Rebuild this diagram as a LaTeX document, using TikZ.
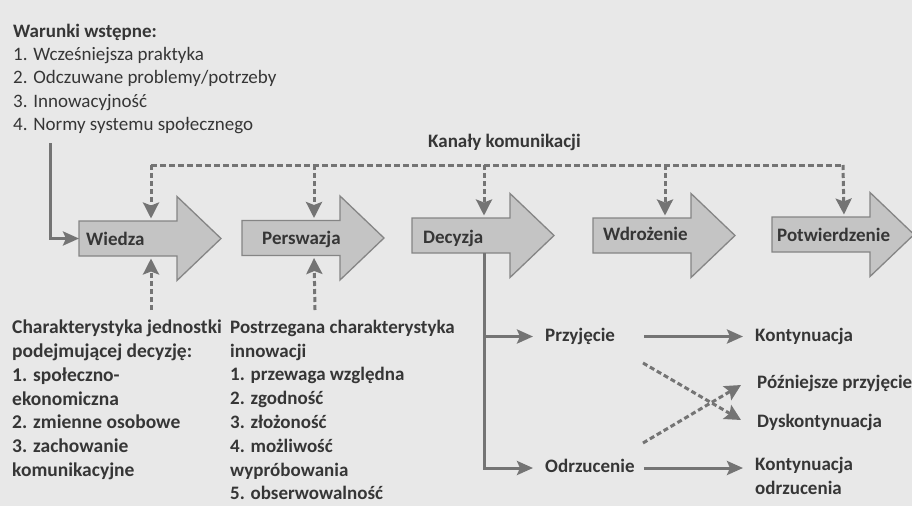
\documentclass[tikz,border=0pt]{standalone}
\usepackage{fontspec}
\setmainfont{Carlito}
\usetikzlibrary{arrows.meta}
\definecolor{bgc}{HTML}{E8E8E8}
\definecolor{linec}{HTML}{747474}
\definecolor{txtc}{HTML}{363636}
\definecolor{stagefill}{HTML}{C4C4C4}
\definecolor{stageedge}{HTML}{858585}
\begin{document}
\begin{tikzpicture}[x=1pt,y=-1pt,
  stagebox/.style={fill=stagefill, draw=stageedge, line width=1.3pt, line join=miter},
  stagearrow/.pic={
    \draw[stagebox] (0,-17.5) -- (98,-17.5) -- (98,-42) -- (142,0) -- (98,42)
      -- (98,17.5) -- (0,17.5) -- cycle;
    \coordinate (-w) at (0,0);
    \coordinate (-n) at (72,-17.5);
    \coordinate (-s) at (72,17.5);
  },
  stagelabel/.style={font=\fontsize{19}{23}\selectfont\bfseries, text=txtc, inner sep=0pt, anchor=base west},
  lbl/.style={font=\fontsize{19}{23}\selectfont\bfseries, text=txtc, inner sep=0pt, anchor=west, text height=13pt, text depth=4pt},
  block/.style={text=txtc, inner sep=0pt, align=left, anchor=north west},
  conn/.style={draw=linec, line width=3pt, -{Stealth[length=16pt,width=14pt,inset=3pt]}},
  dline/.style={draw=linec, line width=3pt, dash pattern=on 6pt off 3pt},
  dconn/.style={draw=linec, line width=3pt, dash pattern=on 5pt off 3pt,
    -{Stealth[length=16pt,width=16pt,inset=3pt]}},
]
\useasboundingbox (0,0) rectangle (912,506);
\fill[bgc] (0,0) rectangle (912,506);

% preconditions
\node[block, font=\fontsize{19}{23.3}\selectfont] (warunki) at (13,23.8)
  {{\bfseries Warunki wstępne:}\\
   1. Wcześniejsza praktyka\\
   2. Odczuwane problemy/potrzeby\\
   3. Innowacyjność\\
   4. Normy systemu społecznego};
\coordinate (war) at (50,143);

% stage arrows
\pic (w) at (79,238.5) {stagearrow};
\pic (p) at (242,238) {stagearrow};
\pic (d) at (412,235.5) {stagearrow};
\pic (i) at (593,235.5) {stagearrow};
\pic (c) at (772,234.5) {stagearrow};
\node[stagelabel] (wiedza) at (86,245) {Wiedza};
\node[stagelabel] (persw) at (262,244) {Perswazja};
\node[stagelabel] (decyz) at (423,243) {Decyzja};
\node[stagelabel] (wdroz) at (603,240) {Wdrożenie};
\node[stagelabel] (potw) at (777,241) {Potwierdzenie};

% communication channels
\node[stagelabel] (kanaly) at (428,147) {Kanały komunikacji};
\coordinate (kL) at (151,165);
\coordinate (kR) at (843,165);
\draw[dline] (kL) -- (kR);
\draw[dconn, shorten >=2.5pt] (kL) -- (w-n);
\draw[dconn, shorten >=2.5pt] (kL -| p-n) -- (p-n);
\draw[dconn, shorten >=2.5pt] (kL -| d-n) -- (d-n);
\draw[dconn, shorten >=2.5pt] (kL -| i-n) -- (i-n);
\draw[dconn, shorten >=2.5pt] (kR) -- (c-n);

% preconditions into knowledge
\draw[conn] (war) |- (w-w);

% bottom characteristics
\node[block, font=\fontsize{19.5}{23.8}\selectfont\bfseries] (jedn) at (12,319.8)
  {Charakterystyka jednostki\\
   podejmującej decyzję:\\
   1. społeczno-\\
   ekonomiczna\\
   2. zmienne osobowe\\
   3. zachowanie\\
   komunikacyjne};
\node[block, font=\fontsize{19}{23.8}\selectfont\bfseries] (innow) at (230,319.8)
  {Postrzegana charakterystyka\\
   innowacji\\
   1. przewaga względna\\
   2. zgodność\\
   3. złożoność\\
   4. możliwość\\
   wypróbowania\\
   5. obserwowalność};
\coordinate (jb) at (151,310);
\coordinate (ib) at (315,310);
\draw[dconn, shorten >=2.5pt] (jb) -- (w-s);
\draw[dconn, shorten >=2.5pt] (ib) -- (p-s);

% decision outcomes
\node[lbl] (przyj) at (545,336.5) {Przyjęcie};
\node[lbl] (odrz) at (545,468) {Odrzucenie};
\node[lbl] (kont) at (755,336.5) {Kontynuacja};
\node[lbl] (pozn) at (757,383.5) {Późniejsze przyjęcie};
\node[lbl] (dysk) at (757,422.5) {Dyskontynuacja};
\node[block, font=\fontsize{19}{24}\selectfont\bfseries] (kodrz) at (755,456.8)
  {Kontynuacja\\ odrzucenia};

\draw[conn, shorten >=12pt] (d-s) |- (przyj.west);
\draw[conn, shorten >=12pt] (d-s) |- (odrz.west);
\draw[conn, shorten <=29pt, shorten >=12pt] (przyj.east) -- (kont.west);
\draw[conn, shorten <=9pt, shorten >=12pt] (odrz.east) -- (odrz.east -| kodrz.west);

\coordinate (x1) at (643,363);
\coordinate (x2) at (643,443);
\coordinate (x1e) at (741,420);
\coordinate (x2e) at (741,385);
\draw[dconn] (x1) -- (x1e);
\draw[dconn] (x2) -- (x2e);
\end{tikzpicture}
\end{document}
